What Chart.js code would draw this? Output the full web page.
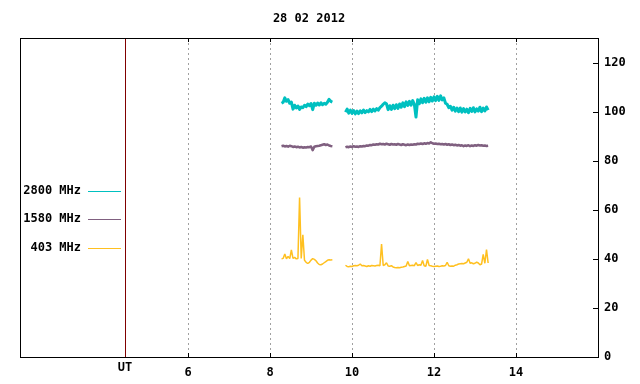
<!DOCTYPE html>
<html>
<head>
<meta charset="utf-8">
<script src="https://cdn.jsdelivr.net/npm/chart.js@4"></script>
<style>
  html, body { margin: 0; padding: 0; background: #ffffff; }
  #c { display: block; }
</style>
</head>
<body>
<canvas id="c" width="640" height="384"></canvas>
<script>
// ---------------- DATA ----------------
const titleText = '28 02 2012';
const seriesNames = ['2800 MHz', '1580 MHz', '403 MHz'];
const seriesColors = ['#00c0c0', '#806080', '#ffc020'];
const xTickValues = [6, 8, 10, 12, 14];
const xTickLabels = ['6', '8', '10', '12', '14'];
const utValue = 4.46;
const utLabel = 'UT';
const yTickValues = [0, 20, 40, 60, 80, 100, 120];
const xMin = 1.9, xMax = 16, yMin = 0, yMax = 130;

// sampling: segment 1 starts 8.28 UT, segment 2 starts 9.84 UT, every 0.04 h
const seg1Start = 8.28, seg2Start = 9.84, sampleStep = 0.04, gapTime = 9.68;

const f2800seg1 = [
  103.4, 103.8, 105.6, 104.2, 104.9, 103.4, 103.9, 101.0, 102.6, 101.5,
  102.3, 100.9, 101.9, 101.6, 102.6, 102.0, 103.1, 102.4, 103.3, 100.8,
  103.4, 102.6, 103.5, 102.7, 103.6, 102.8, 103.4, 103.0, 103.8, 105.0,
  104.2, 103.9
];
const f2800seg2 = [
  99.8, 101.0, 99.4, 100.6, 99.3, 100.4, 99.1, 100.2, 99.2, 100.3,
  99.5, 100.6, 99.6, 100.4, 99.9, 100.9, 100.0, 101.0, 100.3, 101.2,
  100.6, 101.6, 102.2, 103.0, 103.6, 103.2, 100.8, 102.4, 100.9, 102.6,
  101.2, 102.8, 101.3, 103.1, 101.8, 103.6, 102.0, 104.0, 102.5, 104.2,
  102.6, 104.5, 103.0, 97.8, 104.8, 103.2, 105.2, 103.6, 105.4, 103.8,
  105.6, 104.0, 105.8, 104.3, 106.0, 104.5, 106.2, 104.6, 106.4, 104.8,
  105.6, 103.4, 103.0, 101.6, 102.2, 100.6, 101.8, 100.2, 101.4, 100.0,
  101.5, 99.8, 101.2, 99.9, 101.0, 99.6, 101.3, 100.1, 101.6, 99.9,
  101.1, 100.2, 101.8, 100.0, 101.4, 100.3, 101.9, 100.6
];
const f1580seg1 = [
  85.9, 86.1, 85.8, 86.0, 85.7, 86.1, 85.9, 85.6, 85.8, 85.5,
  85.7, 85.4, 85.6, 85.3, 85.5, 85.4, 85.6, 85.5, 85.8, 84.3,
  85.7, 85.9, 86.0, 86.1, 86.3, 86.5, 86.7, 86.4, 86.6, 86.2,
  86.0, 85.9
];
const f1580seg2 = [
  85.4, 85.7, 85.5, 85.8, 85.6, 85.9, 85.7, 85.8, 85.6, 85.9,
  85.8, 86.0, 85.9, 86.2, 86.1, 86.4, 86.3, 86.6, 86.5, 86.7,
  86.6, 86.9, 86.7, 86.8, 86.6, 86.9, 86.7, 86.5, 86.8, 86.6,
  86.7, 86.5, 86.8, 86.6, 86.4, 86.7, 86.5, 86.3, 86.6, 86.4,
  86.6, 86.5, 86.7, 86.6, 86.9, 86.8, 87.0, 86.8, 87.1, 86.9,
  87.2, 87.0, 87.5, 87.1, 86.9, 87.0, 86.8, 86.9, 86.7, 86.8,
  86.6, 86.8, 86.5, 86.7, 86.4, 86.6, 86.3, 86.5, 86.2, 86.4,
  86.1, 86.3, 85.9, 86.2, 86.0, 86.3, 85.9, 86.2, 86.0, 86.3,
  86.1, 86.4, 86.2, 86.3, 86.1, 86.2, 86.0, 86.1
];
const f403seg1 = [
  40.0, 40.2, 42.0, 40.0, 41.0, 40.1, 43.6, 40.2, 40.6, 40.0,
  40.1, 65.0, 40.2, 49.8, 39.4, 38.6, 38.1, 38.6, 39.5, 40.1,
  39.8, 39.2, 38.3, 37.7, 37.6, 37.9, 38.4, 38.9, 39.4, 39.6,
  39.5, 39.6
];
const f403seg2 = [
  37.4, 36.9, 36.8, 37.0, 36.9, 37.2, 37.3, 37.2, 37.4, 37.9,
  37.2, 37.3, 37.1, 36.9, 37.2, 37.0, 37.3, 37.2, 37.1, 37.3,
  37.4, 37.2, 46.0, 37.3, 37.6, 38.4, 37.1, 37.0, 37.2, 36.7,
  36.5, 36.4, 36.5, 36.4, 36.6, 36.7, 36.9, 37.1, 38.9, 37.2,
  37.3, 37.4, 37.2, 38.5, 37.3, 37.6, 37.4, 39.3, 37.2, 37.0,
  39.8, 37.3, 37.2, 37.0, 36.9, 37.0, 37.1, 36.9, 37.0, 37.2,
  37.1, 37.3, 38.6, 37.2, 37.0, 37.1, 37.0, 37.4, 37.6, 37.9,
  38.0, 38.1, 38.0, 38.3, 38.6, 40.0, 38.2, 38.4, 38.0, 38.2,
  38.7, 38.3, 37.6, 37.9, 41.8, 38.2, 43.8, 38.3
];

// ---------------- BUILD ----------------
function buildPoints(seg1, seg2) {
  const pts = [];
  seg1.forEach((v, i) => pts.push({ x: +(seg1Start + i * sampleStep).toFixed(2), y: v }));
  pts.push({ x: gapTime, y: null });
  seg2.forEach((v, i) => pts.push({ x: +(seg2Start + i * sampleStep).toFixed(2), y: v }));
  return pts;
}

const FONT = 'DejaVu Sans Mono';
const fontSpec = { family: FONT, size: 12, weight: 'bold' };

const decorPlugin = {
  id: 'decor',
  beforeDatasetsDraw(chart) {
    const ctx = chart.ctx, a = chart.chartArea, xs = chart.scales.x;
    const ux = Math.round(xs.getPixelForValue(utValue)) + 0.5;
    ctx.save();
    ctx.strokeStyle = '#800000';
    ctx.lineWidth = 1;
    ctx.beginPath();
    ctx.moveTo(ux, a.top);
    ctx.lineTo(ux, a.bottom);
    ctx.stroke();
    ctx.restore();
  },
  afterDraw(chart) {
    const ctx = chart.ctx, a = chart.chartArea, xs = chart.scales.x, ys = chart.scales.y;
    ctx.save();
    // frame
    ctx.strokeStyle = '#000000';
    ctx.lineWidth = 1;
    ctx.strokeRect(Math.round(a.left) + 0.5, Math.round(a.top) + 0.5,
                   Math.round(a.right - a.left), Math.round(a.bottom - a.top));
    // inward x ticks (bottom and top)
    ctx.beginPath();
    xTickValues.forEach(v => {
      const px = Math.round(xs.getPixelForValue(v)) + 0.5;
      ctx.moveTo(px, a.bottom); ctx.lineTo(px, a.bottom - 4);
      ctx.moveTo(px, a.top); ctx.lineTo(px, a.top + 4);
    });
    // inward y ticks
    yTickValues.forEach(v => {
      const py = Math.round(ys.getPixelForValue(v)) + 0.5;
      ctx.moveTo(a.right, py); ctx.lineTo(a.right - 5, py);
    });
    ctx.stroke();
    // font
    ctx.fillStyle = '#000000';
    ctx.font = 'bold 12px "' + FONT + '"';
    ctx.textBaseline = 'middle';
    // UT label
    ctx.textAlign = 'center';
    ctx.fillText(utLabel, xs.getPixelForValue(utValue), 368);
    // title
    ctx.fillText(titleText, (a.left + a.right) / 2, 19);
    // legend
    const legY = [191, 219, 248];
    seriesNames.forEach((name, i) => {
      ctx.textAlign = 'right';
      ctx.fillStyle = '#000000';
      ctx.fillText(name, 81, legY[i]);
      ctx.strokeStyle = seriesColors[i];
      ctx.lineWidth = 1;
      ctx.beginPath();
      ctx.moveTo(88, legY[i] + 0.5);
      ctx.lineTo(121, legY[i] + 0.5);
      ctx.stroke();
    });
    ctx.restore();
  }
};

new Chart(document.getElementById('c'), {
  type: 'line',
  data: {
    datasets: [
      { label: seriesNames[0], data: buildPoints(f2800seg1, f2800seg2),
        borderColor: seriesColors[0], borderWidth: 3, borderJoinStyle: 'round',
        pointRadius: 0, spanGaps: false, tension: 0 },
      { label: seriesNames[1], data: buildPoints(f1580seg1, f1580seg2),
        borderColor: seriesColors[1], borderWidth: 2.5, borderJoinStyle: 'round',
        pointRadius: 0, spanGaps: false, tension: 0 },
      { label: seriesNames[2], data: buildPoints(f403seg1, f403seg2),
        borderColor: seriesColors[2], borderWidth: 1.5, borderJoinStyle: 'bevel',
        pointRadius: 0, spanGaps: false, tension: 0 }
    ]
  },
  options: {
    responsive: false,
    animation: false,
    devicePixelRatio: 1,
    layout: { padding: { left: 20, top: 38, right: 0, bottom: 0 } },
    plugins: { legend: { display: false }, tooltip: { enabled: false }, title: { display: false } },
    scales: {
      x: {
        type: 'linear', min: xMin, max: xMax,
        afterBuildTicks: s => { s.ticks = xTickValues.map(v => ({ value: v })); },
        afterFit: s => { s.height = 27; },
        ticks: {
          autoSkip: false, maxRotation: 0, padding: 9, color: '#000000', font: fontSpec,
          callback: (v) => { const i = xTickValues.indexOf(v); return i >= 0 ? xTickLabels[i] : ''; }
        },
        grid: { color: '#a0a0a0', lineWidth: 1, drawTicks: false },
        border: { display: false, dash: [2, 3] }
      },
      y: {
        type: 'linear', position: 'right', min: yMin, max: yMax,
        afterBuildTicks: s => { s.ticks = yTickValues.map(v => ({ value: v })); },
        afterFit: s => { s.width = 42; },
        ticks: { padding: 6, color: '#000000', font: fontSpec },
        grid: { drawOnChartArea: false, drawTicks: false },
        border: { display: false }
      }
    }
  },
  plugins: [decorPlugin]
});
</script>
</body>
</html>
